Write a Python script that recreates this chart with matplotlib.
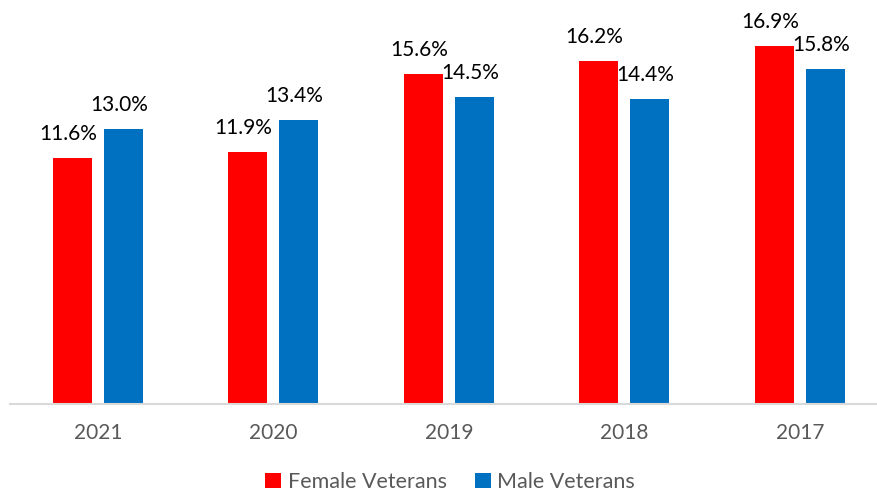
import numpy as np
import matplotlib.pyplot as plt

years = ["2021", "2020", "2019", "2018", "2017"]
female = [11.6, 11.9, 15.6, 16.2, 16.9]
male = [13.0, 13.4, 14.5, 14.4, 15.8]

plt.rcParams["font.family"] = ["Lato", "DejaVu Sans"]

fig = plt.figure(figsize=(8.77, 4.95), dpi=100)
ax = fig.add_axes([0.0114, 0.1838, 0.9886, 0.8162])

x = np.arange(len(years))
w = 0.222
off = 0.145
b1 = ax.bar(x - off, female, w, color="#FF0000", label="Female Veterans")
b2 = ax.bar(x + off, male, w, color="#0070C0", label="Male Veterans")

for bars, vals in ((b1, female), (b2, male)):
    for rect, v in zip(bars, vals):
        ax.annotate(f"{v:.1f}%", (rect.get_x() + rect.get_width() / 2, v),
                    textcoords="offset points", xytext=(-3, 10),
                    ha="center", va="bottom", fontsize=15, color="black")

ax.set_xlim(-0.5, 4.44)
ax.set_ylim(0, 19.07)
ax.set_xticks(x)
ax.set_xticklabels(years, fontsize=15, color="#595959")
ax.tick_params(axis="x", length=0, pad=14)
ax.set_yticks([])
for s in ["top", "right", "left"]:
    ax.spines[s].set_visible(False)
ax.spines["bottom"].set_color("#D9D9D9")
ax.spines["bottom"].set_linewidth(1.5)

fig.legend(loc="lower center", bbox_to_anchor=(0.513, -0.033), ncol=2, frameon=False,
           fontsize=15.5, labelcolor="#595959", handlelength=0.75, handleheight=0.75,
           handletextpad=0.3, columnspacing=1.3)

fig.savefig("out.png", dpi=100)
